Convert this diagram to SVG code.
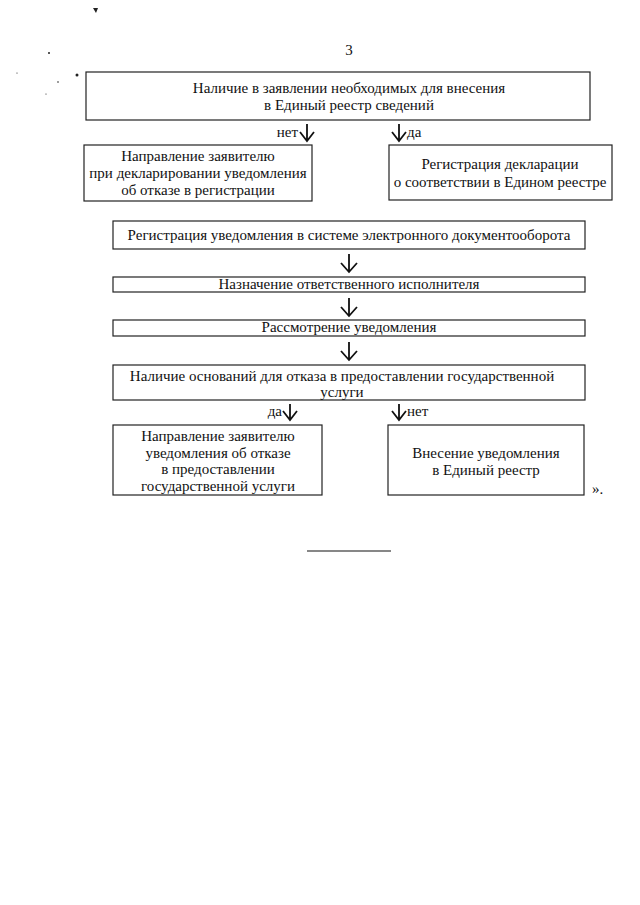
<svg xmlns="http://www.w3.org/2000/svg" width="640" height="905" viewBox="0 0 640 905">
<style>
.box{fill:#fff;stroke:#222;stroke-width:1.2}
.t{font-family:"Liberation Serif","Times New Roman",serif;font-size:15px;fill:#111;text-anchor:middle}
.l{font-family:"Liberation Serif","Times New Roman",serif;font-size:15px;fill:#111}
.e{text-anchor:end}
.arr{fill:none;stroke:#111;stroke-width:1.8}
.speck{fill:#222}
</style>
<rect width="640" height="905" fill="#fff"/>
<g id="specks">
<path class="speck" d="M93 8 l5 0 l-2 5 z"/>
<circle class="speck" cx="49" cy="53" r="1"/>
<circle class="speck" cx="77" cy="75" r="1.5"/>
<circle class="speck" cx="58" cy="82" r="0.8"/>
<circle class="speck" cx="17" cy="73" r="0.6"/>
<circle class="speck" cx="46" cy="94" r="0.6"/>
</g>
<text class="t" x="349" y="55">3</text>
<g id="n1"><rect class="box" x="86" y="72" width="504" height="48"/>
<text class="t" x="349" y="93">Наличие в заявлении необходимых для внесения</text>
<text class="t" x="349" y="110">в Единый реестр сведений</text></g>
<g id="n2"><rect class="box" x="84" y="145" width="228" height="56"/>
<text class="t" x="198" y="161">Направление заявителю</text>
<text class="t" x="198" y="178">при декларировании уведомления</text>
<text class="t" x="198" y="195">об отказе в регистрации</text></g>
<g id="n3"><rect class="box" x="389" y="145" width="223" height="55"/>
<text class="t" x="500" y="169">Регистрация декларации</text>
<text class="t" x="500" y="187">о соответствии в Едином реестре</text></g>
<g id="n4"><rect class="box" x="113" y="221" width="472" height="28"/>
<text class="t" x="349" y="240">Регистрация уведомления в системе электронного документооборота</text></g>
<g id="n5"><rect class="box" x="113" y="277" width="472" height="15"/>
<text class="t" x="349" y="289">Назначение ответственного исполнителя</text></g>
<g id="n6"><rect class="box" x="113" y="320" width="472" height="16"/>
<text class="t" x="349" y="332">Рассмотрение уведомления</text></g>
<g id="n7"><rect class="box" x="113" y="365" width="472" height="35"/>
<text class="t" x="342" y="381">Наличие оснований для отказа в предоставлении государственной</text>
<text class="t" x="342" y="397">услуги</text></g>
<g id="n8"><rect class="box" x="113" y="425" width="209" height="70"/>
<text class="t" x="218" y="441">Направление заявителю</text>
<text class="t" x="218" y="458">уведомления об отказе</text>
<text class="t" x="218" y="474">в предоставлении</text>
<text class="t" x="218" y="491">государственной услуги</text></g>
<g id="n9"><rect class="box" x="388" y="425" width="196" height="70"/>
<text class="t" x="486" y="458">Внесение уведомления</text>
<text class="t" x="486" y="475">в Единый реестр</text></g>
<g id="connectors">
<path class="arr" d="M307 124 V140 M300 132 L307 141 L314 132"/>
<text class="l e" x="298" y="137">нет</text>
<path class="arr" d="M399 124 V140 M392 132 L399 141 L406 132"/>
<text class="l" x="407" y="137">да</text>
<path class="arr" d="M349 254 V271 M341 263 L349 272 L357 263"/>
<path class="arr" d="M349 298 V315 M341 307 L349 316 L357 307"/>
<path class="arr" d="M349 342 V359 M341 351 L349 360 L357 351"/>
<path class="arr" d="M290 404 V419 M283 411 L290 420 L297 411"/>
<text class="l e" x="282" y="416">да</text>
<path class="arr" d="M399 404 V419 M392 411 L399 420 L406 411"/>
<text class="l" x="407" y="416">нет</text>
</g>
<text class="l" x="592" y="494">».</text>
<line x1="307" y1="551" x2="391" y2="551" stroke="#111" stroke-width="1.2"/>
</svg>
